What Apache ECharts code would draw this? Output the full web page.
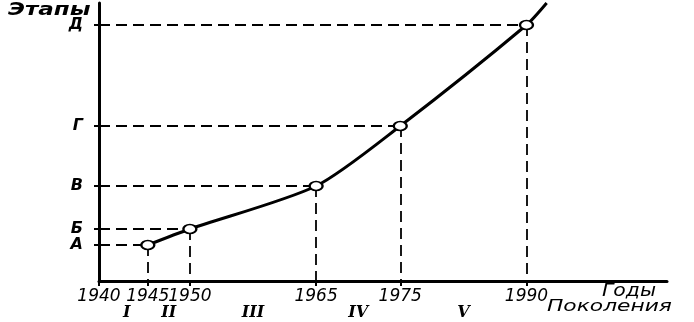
<!DOCTYPE html>
<html>
<head>
<meta charset="utf-8">
<script src="https://cdn.jsdelivr.net/npm/echarts@6/dist/echarts.min.js"></script>
<style>
  html, body { margin: 0; padding: 0; background: #fff; }
  #chart { width: 694px; height: 322px; }
</style>
</head>
<body>
<div id="chart"></div>
<script>
// years of the generations and the stage level reached (arbitrary units)
var years = [1945, 1950, 1965, 1975, 1990];
var levels = [36, 52, 95, 155, 256];
var stageNames = ['А', 'Б', 'В', 'Г', 'Д'];
var yearTicks = [1940, 1945, 1950, 1965, 1975, 1990];
var generationNames = ['I', 'II', 'III', 'IV', 'V'];
var generationMid = [1942.5, 1947.5, 1957.5, 1970, 1982.5];
// curve continues past the last point
var curveEnd = [1992.4, 278];

var xMin = 1939.2, xMax = 2006.7, yMax = 278;
var font = 'DejaVu Sans';

document.addEventListener('DOMContentLoaded', function(){
  var chart = echarts.init(document.getElementById('chart'));

  var lineData = years.map(function(y, i){ return [y, levels[i]]; });
  lineData.push({ value: curveEnd, symbol: 'none' });

  var guides = [];
  years.forEach(function(y, i){
    guides.push([{ coord: [xMin, levels[i]] }, { coord: [y, levels[i]] }]);
    guides.push([{ coord: [y, levels[i]] }, { coord: [y, 0] }]);
  });

  var tickVals = yearTicks.slice();
  tickVals[0] = xMin;

  var option = {
    animation: false,
    grid: { left: 99, right: 27, top: 3, bottom: 41 },
    xAxis: [{
      type: 'value', min: xMin, max: xMax,
      axisLine: { lineStyle: { color: '#000', width: 3 } },
      axisTick: { show: true, customValues: tickVals, length: 5, lineStyle: { color: '#000', width: 2 } },
      axisLabel: {
        customValues: tickVals, margin: 7,
        formatter: function(v){ return Math.round(v / 5) * 5; },
        color: '#000', fontFamily: font, fontStyle: 'italic', fontSize: 17
      },
      splitLine: { show: false }
    }, {
      type: 'value', min: xMin, max: xMax, position: 'bottom',
      axisLine: { show: false }, axisTick: { show: false },
      axisLabel: {
        customValues: generationMid, margin: 24,
        formatter: function(v){ return generationNames[generationMid.indexOf(v)]; },
        color: '#000', fontFamily: 'DejaVu Serif', fontStyle: 'italic', fontWeight: 'bold', fontSize: 16
      },
      splitLine: { show: false }
    }],
    yAxis: {
      type: 'value', min: 0, max: yMax,
      axisLine: { show: true, lineStyle: { color: '#000', width: 3 } },
      axisTick: { show: true, customValues: levels, length: 5, lineStyle: { color: '#000', width: 2 } },
      axisLabel: {
        customValues: levels, margin: 16,
        formatter: function(v){ return stageNames[levels.indexOf(v)]; },
        color: '#000', fontFamily: font, fontStyle: 'italic', fontWeight: 'bold', fontSize: 16
      },
      splitLine: { show: false }
    },
    graphic: [
      { type: 'text', left: 8, top: 1, scaleX: 1.28, style: { text: 'Этапы', font: 'italic bold 18px "DejaVu Sans"', fill: '#000' } },
      { type: 'text', left: 602, top: 283, scaleX: 1.2, style: { text: 'Годы', font: 'italic 17px "DejaVu Sans"', fill: '#000' } },
      { type: 'text', left: 547, top: 299, scaleX: 1.36, style: { text: 'Поколения', font: 'italic 16px "DejaVu Sans"', fill: '#000' } }
    ],
    series: [{
      type: 'line',
      data: lineData,
      smooth: 0.25,
      symbol: 'circle',
      symbolSize: [13, 9],
      itemStyle: { color: '#fff', borderColor: '#000', borderWidth: 2 },
      lineStyle: { color: '#000', width: 3 },
      z: 5,
      markLine: {
        silent: true,
        symbol: 'none',
        label: { show: false },
        lineStyle: { color: '#000', width: 1.8, type: [11, 6] },
        data: guides
      }
    }]
  };
  chart.setOption(option);
});
</script>
</body>
</html>
